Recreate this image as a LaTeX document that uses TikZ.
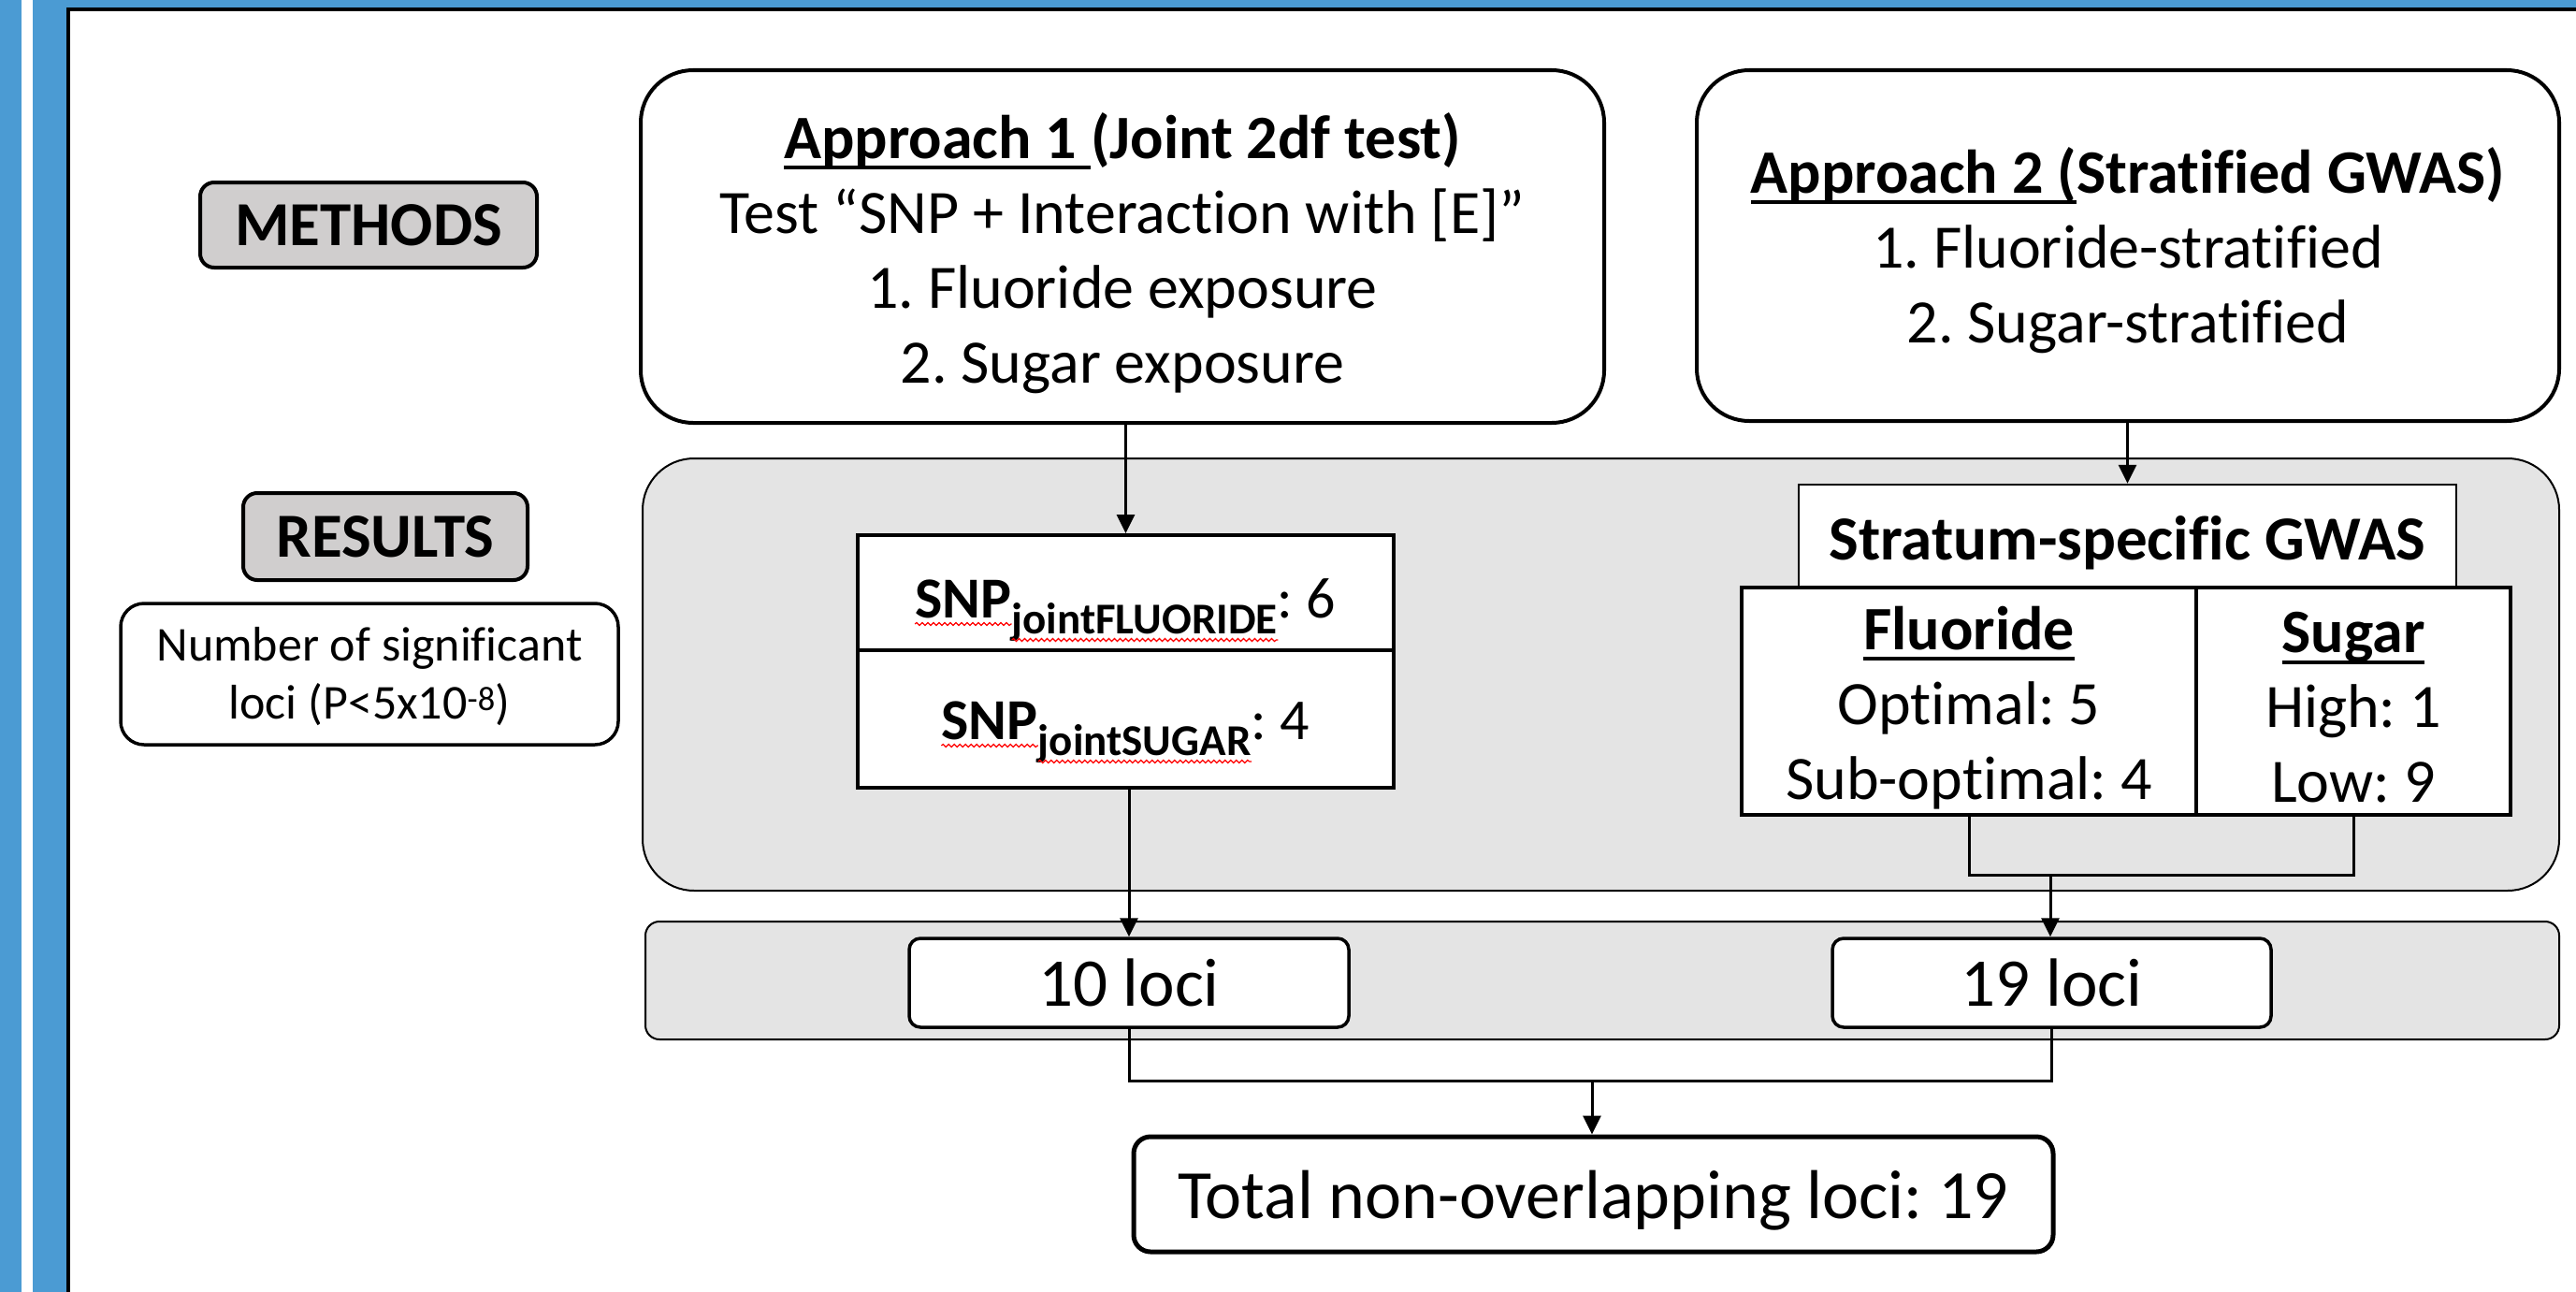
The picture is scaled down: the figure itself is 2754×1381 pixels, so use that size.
\documentclass[tikz,border=0pt]{standalone}
\usepackage{fontspec}
\setmainfont[Ligatures={TeX,NoCommon}]{Carlito}
\usetikzlibrary{arrows.meta,calc,decorations.pathmorphing}
\definecolor{frameblue}{RGB}{75,155,211}
\definecolor{bandgray}{RGB}{228,228,228}
\definecolor{tabgray}{RGB}{208,206,206}
\newcommand{\ulx}[1]{\setbox0\hbox{#1}\rlap{\rule[-0.18em]{\wd0}{0.06em}}\box0}
\newcommand{\fs}[2]{\fontsize{#1}{#2}\selectfont}
\frenchspacing
\begin{document}
\begin{tikzpicture}[x=1pt,y=-1pt,
  spanbox/.style n args={4}{at={({(#1+#3)/2},{(#2+#4)/2})},
     minimum width={(#3-#1)*1pt}, minimum height={(#4-#2)*1pt}},
  rbox/.style={draw, line width=4pt, fill=white, inner sep=0pt, align=center},
  band/.style={draw, line width=2pt, fill=bandgray, inner sep=0pt},
  txt/.style={inner sep=0pt, align=center},
  conn/.style={line width=3pt},
  arr/.style={line width=3pt, -{Triangle[length=20pt,width=19pt]}},
  squig/.style={draw=red, line width=1.2pt, decorate,
     decoration={snake, amplitude=1.5pt, segment length=6pt}},
  big/.style={font=\fs{66}{80}},
]
\fill[white] (0,0) rectangle (2754,1381);
\useasboundingbox (0,0) rectangle (2754,1381);
% frame
\fill[frameblue] (0,0) rectangle (23,1381);
\fill[frameblue] (35,0) rectangle (71,1381);
\fill[frameblue] (35,0) rectangle (2754,8);
\draw[line width=4pt] (73,1381) -- (73,10) -- (2754,10);

% bands
\node[band, rounded corners=55pt, spanbox={687}{490}{2736}{952}] (band1) {};
\node[band, rounded corners=15pt, spanbox={690}{985}{2736}{1111}] (band2) {};

% left labels
\node[rbox, fill=tabgray, rounded corners=15pt, spanbox={214}{195}{574}{286},
      font=\fs{67}{80}\bfseries] (meth) {METHODS};
\node[rbox, fill=tabgray, rounded corners=15pt, spanbox={260}{527}{564}{620},
      font=\fs{67}{80}\bfseries] (res) {RESULTS};
\node[rbox, line width=3.5pt, rounded corners=25pt, spanbox={129}{645}{661}{796}] (num) {};
\node[txt, font=\fs{52}{62}] (numt) at ($(num.center)+(0,3)$)
  {Number of significant\\loci (P<5x10\textsuperscript{-8})};

% approaches
\node[rbox, rounded corners=56pt, spanbox={685}{75}{1715}{452}] (a1) {};
\node[txt, big] (a1t) at ($(a1.center)+(0,7)$)
  {\textbf{\ulx{Approach 1 }(Joint 2df test)}\\
   Test “SNP + Interaction with [E]”\\
   1. Fluoride exposure\\
   2. Sugar exposure};
\node[rbox, rounded corners=56pt, spanbox={1814}{75}{2736}{450}] (a2) {};
\node[txt, big] (a2t) at ($(a2.center)+(0,5)$)
  {\textbf{\ulx{Approach 2 (}Stratified GWAS)}\\
   1. Fluoride-stratified\\
   2. Sugar-stratified};

% approach 1 results
\node[rbox, spanbox={917}{572}{1490}{695}] (snpf) {};
\node[rbox, spanbox={917}{695}{1490}{842}] (snps) {};
\node[txt, anchor=base, font=\fs{62}{72}] (snpt1) at (1203,660)
  {\textbf{SNP}\raisebox{-17pt}{\fs{47}{50}\bfseries jointFLUORIDE}: 6};
\node[txt, anchor=base, font=\fs{62}{72}] (snpt2) at (1203,790)
  {\textbf{SNP}\raisebox{-17pt}{\fs{47}{50}\bfseries jointSUGAR}: 4};
\node[txt, anchor=base west, font=\fs{62}{72}\bfseries] (p1a) at (snpt1.base west) {\phantom{SNP}};
\node[txt, anchor=base west, font=\fs{47}{50}\bfseries] (p1b) at ($(p1a.base east)+(0,17)$) {\phantom{jointFLUORIDE}};
\node[txt, anchor=base west, font=\fs{62}{72}\bfseries] (p2a) at (snpt2.base west) {\phantom{SNP}};
\node[txt, anchor=base west, font=\fs{47}{50}\bfseries] (p2b) at ($(p2a.base east)+(0,17)$) {\phantom{jointSUGAR}};
\draw[squig] ($(p1a.base west)+(0,7)$) -- ($(p1a.base east)+(0,7)$);
\draw[squig] ($(p1b.base west)+(0,7)$) -- ($(p1b.base east)+(0,7)$);
\draw[squig] ($(p2a.base west)+(0,7)$) -- ($(p2a.base east)+(0,7)$);
\draw[squig] ($(p2b.base west)+(0,7)$) -- ($(p2b.base east)+(0,7)$);

% approach 2 results
\node[rbox, line width=2.5pt, spanbox={1923}{518}{2626}{628}] (strat) {};
\node[txt, font=\fs{67}{80}\bfseries] (stratt) at ($(strat.center)+(0,7)$)
  {Stratum-specific GWAS};
\node[rbox, spanbox={1862}{628}{2348}{871}] (fl) {};
\node[txt, big] (flt) at ($(fl.center)+(0,7)$)
  {\textbf{\ulx{Fluoride}}\\Optimal: 5\\Sub-optimal: 4};
\node[rbox, spanbox={2348}{628}{2684}{871}] (sg) {};
\node[txt, big] (sgt) at ($(sg.center)+(0,7)$)
  {\textbf{\ulx{Sugar}}\\High: 1\\Low: 9};

% loci
\node[rbox, line width=3.5pt, rounded corners=12pt, spanbox={972}{1003}{1442}{1098},
      font=\fs{73}{88}] (l10) {10 loci};
\node[rbox, line width=3.5pt, rounded corners=12pt, spanbox={1959}{1003}{2428}{1098},
      font=\fs{73}{88}] (l19) {19 loci};
\node[rbox, line width=5pt, rounded corners=18pt, spanbox={1212}{1215}{2195}{1338}] (tot) {};
\node[txt, font=\fs{74}{88}] (tott) at ($(tot.center)+(0,7)$) {Total non-overlapping loci: 19};

% connectors
\coordinate (jn1) at (2192,935);
\coordinate (jn2) at (1702,1155);
\draw[arr] (snpf.north |- a1.south) -- (snpf.north);
\draw[arr] (strat.north |- a2.south) -- (strat.north);
\draw[arr] (l10.north |- snps.south) -- (l10.north);
\draw[conn] (fl.south) -- (fl.south |- jn1) -| (sg.south);
\draw[arr] (jn1) -- (jn1 |- l19.north);
\draw[conn] (l10.south) -- (l10.south |- jn2) -| (l19.south);
\draw[arr] (jn2) -- (jn2 |- tot.north);
\end{tikzpicture}
\end{document}
